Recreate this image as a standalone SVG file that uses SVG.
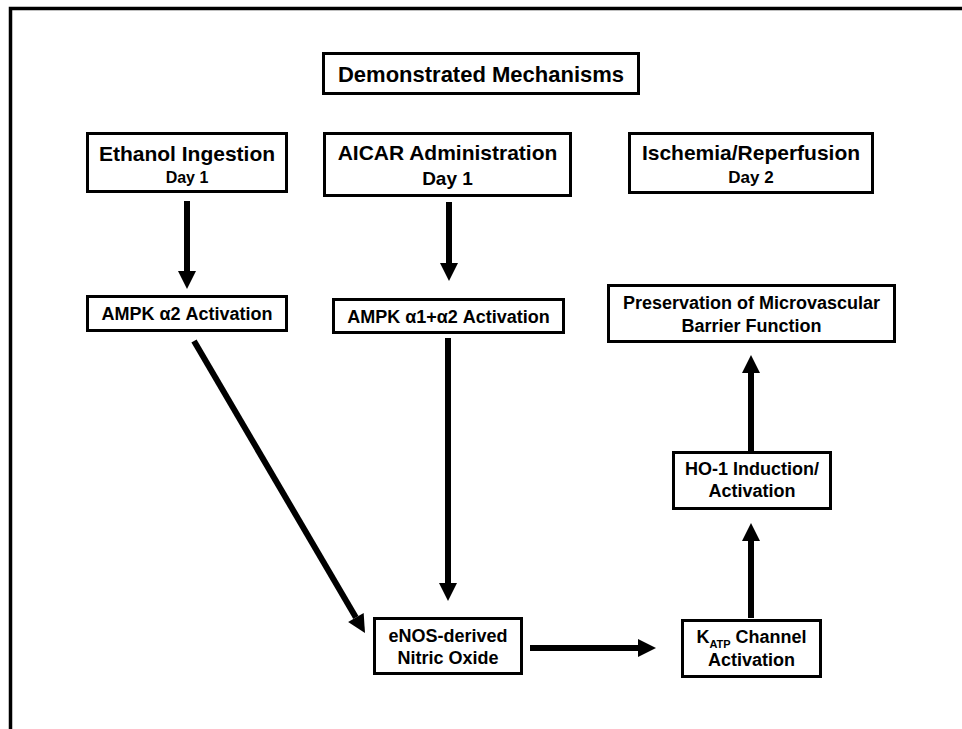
<svg xmlns="http://www.w3.org/2000/svg" width="962" height="729" viewBox="0 0 962 729">
<style>
  .box { fill: #fff; stroke: #000; stroke-width: 3; }
  .t { font-family: "Liberation Sans", Arial, sans-serif; font-weight: bold; fill: #000; text-anchor: middle; }
  .conn { stroke: #000; stroke-width: 6; fill: none; marker-end: url(#ah); }
</style>
<defs>
  <marker id="ah" markerUnits="userSpaceOnUse" markerWidth="18" markerHeight="18" refX="0" refY="9" orient="auto" overflow="visible">
    <path d="M0,0 L18,9 L0,18 Z" fill="#000"/>
  </marker>
</defs>
<rect width="962" height="729" fill="#fff"/>
<path d="M10.5,729 V8.5 H962" fill="none" stroke="#000" stroke-width="3.5"/>

<g id="title">
  <rect class="box" x="323.5" y="53.5" width="315" height="40"/>
  <text class="t" x="481" y="82" font-size="22">Demonstrated Mechanisms</text>
</g>
<g id="ethanol">
  <rect class="box" x="87.5" y="133.5" width="199" height="58"/>
  <text class="t" x="187" y="161" font-size="21">Ethanol Ingestion</text>
  <text class="t" x="187" y="183" font-size="16">Day 1</text>
</g>
<g id="aicar">
  <rect class="box" x="324.5" y="133.5" width="246" height="62"/>
  <text class="t" x="447.5" y="160" font-size="21">AICAR Administration</text>
  <text class="t" x="447.5" y="185" font-size="19">Day 1</text>
</g>
<g id="ischemia">
  <rect class="box" x="629.5" y="133.5" width="243" height="59"/>
  <text class="t" x="751" y="160" font-size="21">Ischemia/Reperfusion</text>
  <text class="t" x="751" y="183" font-size="17">Day 2</text>
</g>
<g id="ampk_a2">
  <rect class="box" x="87.5" y="296.5" width="199" height="34"/>
  <text class="t" x="187" y="320" font-size="18">AMPK α2 Activation</text>
</g>
<g id="ampk_a1a2">
  <rect class="box" x="333.5" y="299.5" width="230" height="33"/>
  <text class="t" x="448.5" y="323" font-size="18">AMPK α1+α2 Activation</text>
</g>
<g id="preservation">
  <rect class="box" x="608.5" y="285.5" width="286" height="56"/>
  <text class="t" x="751.5" y="309" font-size="18">Preservation of Microvascular</text>
  <text class="t" x="751.5" y="332" font-size="18">Barrier Function</text>
</g>
<g id="ho1">
  <rect class="box" x="673.5" y="452.5" width="157" height="56"/>
  <text class="t" x="752" y="475" font-size="18">HO-1 Induction/</text>
  <text class="t" x="752" y="497" font-size="18">Activation</text>
</g>
<g id="enos">
  <rect class="box" x="374.5" y="618.5" width="147" height="55"/>
  <text class="t" x="448" y="642" font-size="18">eNOS-derived</text>
  <text class="t" x="448" y="664" font-size="18">Nitric Oxide</text>
</g>
<g id="katp">
  <rect class="box" x="682.5" y="620.5" width="138" height="56"/>
  <text class="t" x="751.5" y="643" font-size="18">K<tspan font-size="11" dy="5">ATP</tspan><tspan dy="-5"> Channel</tspan></text>
  <text class="t" x="751.5" y="666" font-size="18">Activation</text>
</g>

<g id="connectors">
  <line class="conn" x1="187" y1="201" x2="187" y2="271"/>
  <line class="conn" x1="449" y1="202" x2="449" y2="263"/>
  <line class="conn" x1="448" y1="338" x2="448" y2="583"/>
  <line class="conn" x1="194" y1="341" x2="355.9" y2="617.5"/>
  <line class="conn" x1="530" y1="648" x2="638" y2="648"/>
  <line class="conn" x1="751" y1="618" x2="751" y2="541"/>
  <line class="conn" x1="751" y1="451" x2="751" y2="373"/>
</g>
</svg>
